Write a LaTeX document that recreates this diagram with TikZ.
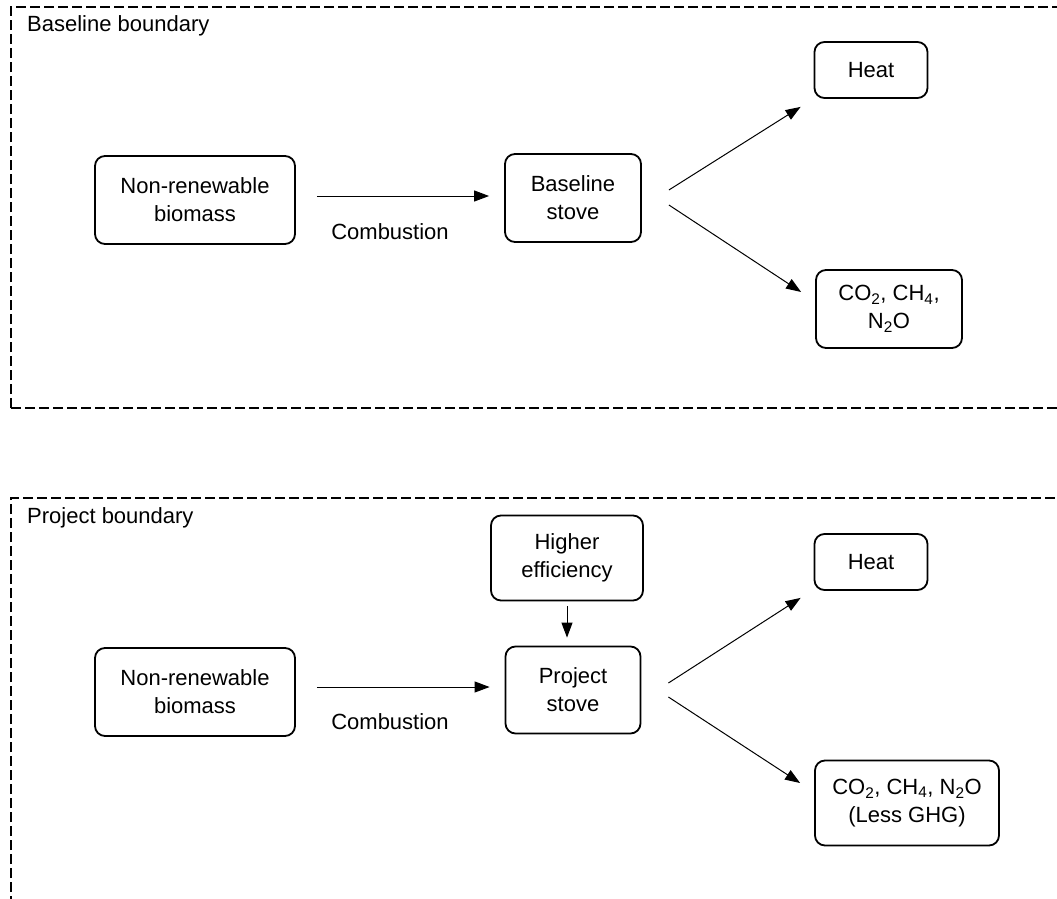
\documentclass[tikz,border=0pt]{standalone}
\usepackage{fontspec}
\setmainfont{Liberation Sans}
\usetikzlibrary{arrows.meta,calc}
\begin{document}
\begin{tikzpicture}[x=1pt,y=-1pt,
  txt/.style={font=\fontsize{22}{28}\selectfont, inner sep=0pt},
  box/.style={txt, draw, line width=1.8pt, rounded corners=10pt, align=center},
  frame/.style={line width=2.5pt, dash pattern=on 10pt off 4pt},
  arr/.style={line width=1pt, -{Triangle[length=15pt,width=11pt]}}]
\useasboundingbox (0,0) rectangle (1057,899);
\clip (0,0) rectangle (1057,899);
% frames
\draw[frame] (11,408) -- (11,7) -- (1080,7);
\draw[frame] (11,408) -- (1080,408);
\draw[frame] (11,920) -- (11,498) -- (1080,498);
\node[txt, anchor=west] (lbl1) at (27,26) {Baseline boundary};
\node[txt, anchor=west] (lbl2) at (27,518) {Project boundary};
% baseline
\node[box, minimum width=200pt, minimum height=88pt] (nb1) at (195,200) {Non-renewable\\biomass};
\node[box, minimum width=136pt, minimum height=88pt] (bs) at (573,198) {Baseline\\stove};
\node[box, minimum width=113pt, minimum height=56pt] (h1) at (871,70) {Heat};
\node[box, minimum width=146pt, minimum height=78pt] (g1) at (889,309) {CO\textsubscript{2}, CH\textsubscript{4},\\N\textsubscript{2}O};
\node[txt] (c1) at (390,232) {Combustion};
\draw[arr] ([shift={(21,-4)}]nb1.east) -- ([shift={(-15,-4)}]nb1.east -| bs.west);
\draw[arr] ([shift={(27,-8)}]bs.east) -- ([shift={(-13,8)}]h1.south west);
\draw[arr] ([shift={(27,7)}]bs.east) -- ([shift={(-14,-17)}]g1.west);
% project
\node[box, minimum width=152pt, minimum height=85pt] (he) at (567,558) {Higher\\efficiency};
\node[box, minimum width=135pt, minimum height=87pt] (ps) at (573,690) {Project\\stove};
\node[box, minimum width=200pt, minimum height=88pt] (nb2) at (195,692) {Non-renewable\\biomass};
\node[box, minimum width=113pt, minimum height=56pt] (h2) at (871,562) {Heat};
\node[box, minimum width=184pt, minimum height=85pt] (g2) at (907,803) {CO\textsubscript{2}, CH\textsubscript{4}, N\textsubscript{2}O\\(Less GHG)};
\node[txt] (c2) at (390,722) {Combustion};
\draw[arr] ([shift={(21,-5)}]nb2.east) -- ([shift={(-15,-5)}]nb2.east -| ps.west);
\draw[arr] ([shift={(0,5)}]he.south) -- ([shift={(0,-8)}]he.south |- ps.north);
\draw[arr] ([shift={(27,-7)}]ps.east) -- ([shift={(-13,7)}]h2.south west);
\draw[arr] ([shift={(27,7)}]ps.east) -- ([shift={(-14,-20)}]g2.west);
\end{tikzpicture}
\end{document}
